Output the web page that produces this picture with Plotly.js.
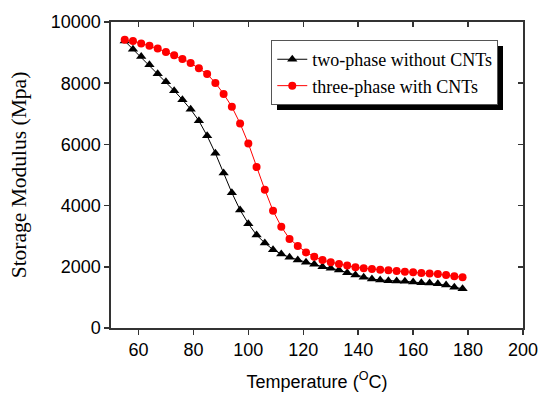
<!DOCTYPE html>
<html>
<head>
<meta charset="utf-8">
<script src="https://cdn.plot.ly/plotly-3.0.1.min.js"></script>
<style>html,body{margin:0;padding:0;background:#fff;}#chart{width:539px;height:394px;}</style>
</head>
<body>
<div id="chart"></div>
<script>
const temperature = [55,58,61,64,67,70,73,76,79,82,85,88,91,94,97,100,103,106,109,112,115,118,121,124,127,130,133,136,139,142,145,148,151,154,157,160,163,166,169,172,175,178];
const twoPhase = [9380,9110,8870,8600,8310,8045,7756,7460,7147,6770,6280,5710,5065,4420,3856,3410,3039,2780,2560,2418,2310,2222,2150,2081,2003,1951,1895,1807,1732,1657,1601,1569,1546,1536,1526,1503,1480,1471,1448,1405,1330,1284];
const threePhase = [9420,9380,9300,9225,9130,9020,8910,8790,8660,8490,8300,8010,7650,7230,6685,6030,5260,4520,3830,3310,2910,2680,2470,2330,2220,2150,2090,2040,1985,1950,1930,1905,1885,1865,1840,1820,1800,1785,1765,1730,1690,1660];
const seriesNames = ["two-phase without CNTs", "three-phase with CNTs"];
const xTitle = "Temperature (<sup>O</sup>C)";
const yTitle = "Storage Modulus (Mpa)";

const traces = [
  {x: temperature, y: twoPhase, name: seriesNames[0], mode: 'lines+markers',
   line: {color: '#000', width: 1}, marker: {symbol: 'triangle-up', size: 9, color: '#000'}},
  {x: temperature, y: threePhase, name: seriesNames[1], mode: 'lines+markers',
   line: {color: '#ff0000', width: 1}, marker: {symbol: 'circle', size: 8, color: '#ff0000'}},
  {x: [], y: [], xaxis: 'x2', yaxis: 'y2', showlegend: false, hoverinfo: 'skip'}
];

const tickFont = {family: 'Liberation Sans, Arial, sans-serif', size: 18, color: '#000'};
const layout = {
  width: 539, height: 394,
  margin: {l: 110.5, r: 16, t: 22, b: 66, pad: 0},
  paper_bgcolor: '#fff', plot_bgcolor: '#fff',
  showlegend: true,
  legend: {x: 0.389, y: 0.941, xanchor: 'left', yanchor: 'top',
    bgcolor: '#fff', bordercolor: '#555', borderwidth: 1,
    font: {family: 'Liberation Serif, Times New Roman, serif', size: 18, color: '#000'},
    tracegroupgap: 0},
  xaxis: {range: [50, 200], dtick: 20, tick0: 0, tickformat: 'd', ticks: 'outside', ticklen: 5, tickwidth: 1.5, tickcolor: '#333',
    showline: true, linecolor: '#333', linewidth: 1.6, mirror: true, showgrid: false, zeroline: false,
    tickfont: tickFont,
    title: {text: xTitle, font: {family: 'Liberation Sans, Arial, sans-serif', size: 18, color: '#000'}, standoff: 16}},
  yaxis: {range: [0, 10000], dtick: 2000, tick0: 0, tickformat: 'd', ticks: 'outside', ticklen: 5, tickwidth: 1.5, tickcolor: '#333',
    showline: true, linecolor: '#333', linewidth: 1.6, mirror: true, showgrid: false, zeroline: false,
    tickfont: tickFont,
    title: {text: yTitle, font: {family: 'Liberation Serif, Times New Roman, serif', size: 21.5, color: '#000'}, standoff: 18}},
  xaxis2: {overlaying: 'x', anchor: 'y2', side: 'top', range: [50, 200], dtick: 20, tick0: 0,
    ticks: 'inside', ticklen: 5, tickwidth: 1.5, tickcolor: '#333', showticklabels: false,
    showline: false, showgrid: false, zeroline: false},
  yaxis2: {overlaying: 'y', anchor: 'x2', side: 'right', range: [0, 10000], dtick: 2000, tick0: 0,
    ticks: 'inside', ticklen: 5, tickwidth: 1.5, tickcolor: '#333', showticklabels: false,
    showline: false, showgrid: false, zeroline: false}
};

const gd = document.getElementById('chart');
function addLegendShadow() {
  const bg = gd.querySelector('.legend rect.bg');
  if (!bg || bg.parentNode.querySelector('rect.legshadow')) return;
  const sh = bg.cloneNode(false);
  sh.setAttribute('class', 'legshadow');
  sh.style.fill = '#000';
  sh.style.fillOpacity = '1';
  sh.style.stroke = 'none';
  sh.setAttribute('transform', (bg.getAttribute('transform') || '') + ' translate(5,5)');
  bg.parentNode.insertBefore(sh, bg);
}
Plotly.newPlot(gd, traces, layout, {staticPlot: true, displayModeBar: false}).then(addLegendShadow);
</script>
</body>
</html>
